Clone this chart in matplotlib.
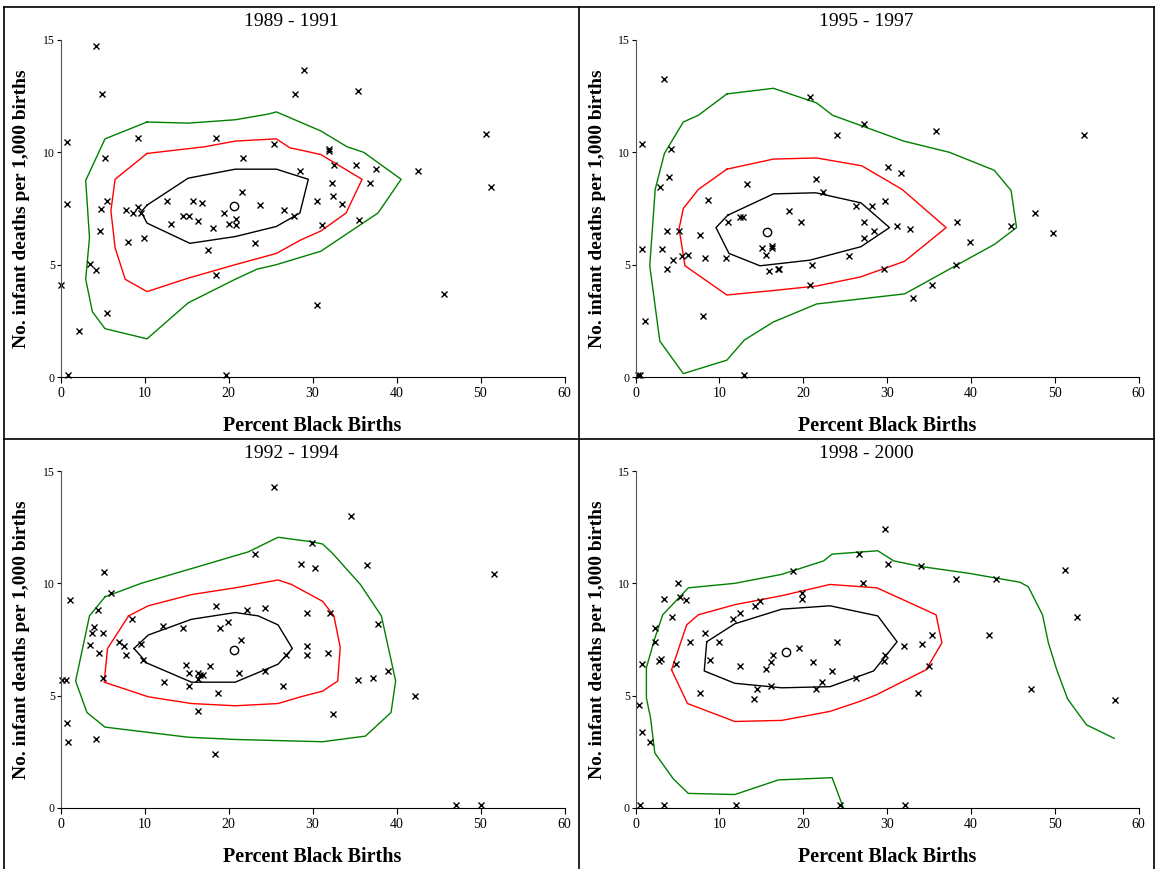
import matplotlib
matplotlib.use("Agg")
import matplotlib.pyplot as plt
from matplotlib.lines import Line2D

plt.rcParams['font.family'] = ['Liberation Serif', 'DejaVu Serif']

# ---- 1989 - 1991 ----
pts_8991 = [(4.2, 14.75), (4.9, 12.6), (0.8, 10.45), (9.2, 10.65), (18.5, 10.65), (25.4, 10.35),
            (5.3, 9.75), (21.7, 9.75), (28.5, 9.15), (0.8, 7.7), (5.5, 7.85), (4.8, 7.5), (7.8, 7.45),
            (8.6, 7.3), (9.2, 7.55), (9.6, 7.3), (12.7, 7.85), (15.8, 7.85), (16.8, 7.75), (21.6, 8.25),
            (19.5, 7.3), (23.8, 7.65), (26.6, 7.45), (27.8, 7.15), (13.2, 6.8), (14.6, 7.15), (15.3, 7.15),
            (16.4, 6.95), (18.2, 6.65), (20.1, 6.8), (20.9, 7.05), (20.9, 6.75), (4.7, 6.5), (8.0, 6.0),
            (9.9, 6.2), (17.6, 5.65), (23.1, 5.95), (3.5, 5.05), (4.2, 4.75), (0.1, 4.1), (18.5, 4.55),
            (5.5, 2.85), (2.2, 2.05), (0.9, 0.1), (19.7, 0.1), (29.0, 13.65), (27.9, 12.6), (35.4, 12.75),
            (50.7, 10.8), (32.0, 10.15), (32.0, 10.05), (32.6, 9.45), (35.2, 9.45), (37.5, 9.25),
            (42.6, 9.15), (32.3, 8.65), (36.85, 8.65), (51.3, 8.45), (30.5, 7.85), (32.4, 8.05),
            (33.5, 7.7), (31.1, 6.75), (35.55, 7.0), (45.7, 3.7), (30.5, 3.2)]
mean_8991 = (20.7, 7.6)
green_8991 = [(10.3, 11.35), (15.2, 11.3), (20.8, 11.45), (24.7, 11.7), (25.7, 11.8), (31.0, 10.95),
              (34.1, 10.25), (36.1, 10.0), (40.55, 8.8), (37.8, 7.3), (31.0, 5.6), (25.7, 5.0),
              (23.4, 4.8), (20.8, 4.35), (15.2, 3.3), (10.3, 1.7), (5.3, 2.15), (3.8, 2.9), (3.0, 4.35),
              (3.45, 6.2), (3.0, 8.75), (5.3, 10.6), (10.3, 11.35)]
red_8991 = [(10.3, 9.95), (17.2, 10.25), (20.8, 10.5), (25.7, 10.6), (27.3, 10.2), (28.6, 10.1),
            (31.0, 9.9), (35.9, 8.8), (34.0, 7.3), (31.0, 6.5), (28.6, 6.1), (25.7, 5.5), (20.8, 5.0),
            (15.2, 4.4), (10.3, 3.8), (7.7, 4.35), (6.5, 5.75), (6.0, 7.4), (6.5, 8.8), (10.3, 9.95)]
black_8991 = [(10.3, 7.65), (15.2, 8.85), (20.8, 9.25), (25.7, 9.25), (29.5, 8.8), (28.5, 7.3),
              (25.7, 6.7), (20.8, 6.25), (15.4, 5.95), (10.3, 6.85), (9.6, 7.35), (10.3, 7.65)]

# ---- 1995 - 1997 ----
pts_9597 = [(3.4, 13.25), (0.8, 10.35), (4.2, 10.15), (4.0, 8.9), (2.95, 8.45), (13.3, 8.6), (8.7, 7.9),
            (21.5, 8.8), (22.35, 8.25), (20.8, 12.45), (27.2, 11.25), (24.0, 10.75), (30.1, 9.35),
            (29.8, 7.85), (26.25, 7.6), (28.2, 7.6), (18.3, 7.4), (19.7, 6.9), (12.5, 7.1), (12.8, 7.1),
            (11.0, 6.9), (27.2, 6.9), (28.4, 6.5), (27.2, 6.2), (15.1, 5.75), (16.3, 5.75), (16.3, 5.85),
            (15.6, 5.45), (15.9, 4.7), (17.0, 4.8), (17.1, 4.8), (21.0, 5.0), (20.8, 4.1), (25.5, 5.4),
            (10.8, 5.3), (8.3, 5.3), (7.65, 6.3), (5.2, 6.5), (3.8, 6.5), (0.75, 5.7), (3.2, 5.7),
            (3.75, 4.8), (4.5, 5.2), (5.6, 5.4), (6.3, 5.45), (29.6, 4.8), (8.05, 2.7), (1.15, 2.5),
            (0.3, 0.07), (0.5, 0.07), (13.0, 0.07), (35.9, 10.95), (53.45, 10.75), (31.7, 9.1),
            (38.4, 6.9), (31.2, 6.7), (32.8, 6.6), (44.8, 6.7), (47.6, 7.3), (49.8, 6.4), (39.9, 6.0),
            (38.2, 5.0), (35.4, 4.1), (33.1, 3.5)]
mean_9597 = (15.7, 6.45)
green_9597 = [(10.9, 12.6), (16.45, 12.85), (21.6, 12.2), (23.5, 11.65), (32.0, 10.5), (37.45, 10.0),
              (42.8, 9.2), (44.8, 8.3), (45.45, 6.65), (42.8, 5.9), (37.45, 4.8), (32.1, 3.7),
              (21.6, 3.25), (16.45, 2.45), (13.0, 1.65), (10.9, 0.75), (5.7, 0.15), (2.9, 1.6),
              (1.7, 4.95), (2.35, 8.35), (3.45, 9.95), (5.7, 11.35), (7.5, 11.65), (10.9, 12.6)]
red_9597 = [(10.9, 9.25), (16.45, 9.7), (21.6, 9.75), (27.0, 9.4), (31.8, 8.35), (37.05, 6.65),
            (32.1, 5.15), (26.8, 4.45), (21.6, 4.05), (16.45, 3.85), (10.9, 3.65), (5.9, 4.95),
            (5.2, 6.6), (5.7, 7.5), (7.5, 8.35), (10.9, 9.25)]
black_9597 = [(11.0, 7.2), (16.45, 8.15), (21.5, 8.2), (26.9, 7.75), (30.3, 6.65), (26.9, 5.8),
              (20.8, 5.2), (14.85, 4.95), (11.15, 5.5), (9.6, 6.65), (11.0, 7.2)]

# ---- 1992 - 1994 ----
pts_9294 = [(25.45, 14.3), (5.2, 10.5), (1.1, 9.25), (6.0, 9.55), (4.5, 8.8), (4.0, 8.05), (3.7, 7.8),
            (5.0, 7.8), (3.5, 7.25), (4.6, 6.9), (8.55, 8.4), (7.0, 7.4), (7.6, 7.2), (7.85, 6.8),
            (9.6, 7.3), (9.8, 6.6), (12.15, 8.1), (14.55, 8.0), (18.5, 9.0), (19.0, 8.0), (19.9, 8.3),
            (22.2, 8.8), (24.35, 8.9), (21.45, 7.5), (26.8, 6.8), (14.95, 6.35), (15.35, 6.0),
            (17.85, 6.3), (16.4, 6.0), (16.65, 5.9), (16.95, 5.9), (16.4, 5.75), (21.25, 6.0),
            (24.3, 6.1), (12.3, 5.6), (15.35, 5.45), (18.7, 5.1), (26.45, 5.45), (16.4, 4.3), (5.0, 5.8),
            (0.15, 5.7), (0.7, 5.7), (0.8, 3.8), (0.95, 2.95), (4.2, 3.05), (18.4, 2.4), (23.2, 11.3),
            (28.6, 10.85), (29.3, 8.7), (29.4, 7.2), (29.4, 6.8), (34.6, 13.0), (29.95, 11.8),
            (30.35, 10.7), (36.45, 10.8), (51.6, 10.4), (32.1, 8.7), (37.8, 8.2), (31.9, 6.9),
            (39.0, 6.1), (35.4, 5.7), (37.15, 5.8), (42.2, 5.0), (32.45, 4.2), (47.1, 0.15), (50.0, 0.15)]
mean_9294 = (20.7, 7.05)
green_9294 = [(5.3, 9.4), (9.6, 10.0), (16.0, 10.7), (22.35, 11.4), (25.9, 12.05), (29.9, 11.85),
              (31.2, 11.75), (32.35, 11.35), (35.7, 9.95), (38.2, 8.55), (39.9, 5.65), (39.35, 4.25),
              (36.3, 3.2), (31.2, 2.95), (20.8, 3.05), (15.2, 3.15), (5.3, 3.6), (3.15, 4.25),
              (1.8, 5.65), (3.45, 8.55), (5.3, 9.4)]
red_9294 = [(8.1, 8.55), (10.45, 9.0), (15.6, 9.5), (20.8, 9.8), (25.9, 10.15), (27.5, 9.95), (31.2, 9.2),
            (32.55, 8.55), (33.3, 7.15), (33.0, 5.65), (31.2, 5.2), (28.6, 4.95), (25.9, 4.65),
            (20.8, 4.55), (15.6, 4.65), (10.45, 4.95), (5.2, 5.6), (5.6, 7.1), (8.1, 8.55)]
black_9294 = [(8.75, 7.1), (10.45, 7.7), (15.6, 8.4), (20.8, 8.7), (23.55, 8.55), (25.9, 8.15),
              (27.6, 7.1), (25.9, 6.4), (20.8, 5.6), (15.6, 5.6), (10.3, 6.45), (8.75, 7.1)]

# ---- 1998 - 2000 ----
pts_9800 = [(29.8, 12.4), (26.65, 11.3), (30.15, 10.85), (18.8, 10.55), (5.05, 10.0), (27.1, 10.0),
            (3.4, 9.3), (5.25, 9.4), (6.05, 9.25), (19.9, 9.55), (19.9, 9.3), (14.2, 9.0), (14.8, 9.2),
            (4.4, 8.5), (11.65, 8.4), (12.45, 8.7), (2.35, 8.0), (2.35, 7.4), (8.3, 7.8), (6.5, 7.4),
            (10.0, 7.4), (24.0, 7.4), (2.85, 6.55), (3.05, 6.65), (0.75, 6.4), (4.8, 6.4), (8.9, 6.6),
            (19.55, 7.1), (16.45, 6.8), (16.2, 6.5), (15.6, 6.2), (12.45, 6.3), (21.15, 6.5),
            (23.45, 6.1), (22.3, 5.6), (21.55, 5.3), (26.3, 5.8), (16.2, 5.45), (14.45, 5.3),
            (14.1, 4.85), (7.75, 5.1), (29.8, 6.8), (29.6, 6.55), (0.45, 4.6), (0.75, 3.4), (1.75, 2.95),
            (0.5, 0.15), (3.4, 0.15), (11.95, 0.15), (24.35, 0.15), (34.0, 10.75), (38.2, 10.2),
            (42.95, 10.2), (51.2, 10.6), (52.7, 8.5), (35.35, 7.7), (42.2, 7.7), (34.15, 7.3),
            (32.0, 7.2), (35.05, 6.3), (33.7, 5.1), (47.2, 5.3), (57.15, 4.8), (32.2, 0.15)]
mean_9800 = (17.9, 6.95)
green_9800 = [(24.8, 0.0), (23.45, 1.35), (17.05, 1.25), (11.85, 0.6), (6.3, 0.65), (4.5, 1.3),
              (2.3, 2.45), (1.8, 4.0), (1.3, 4.9), (1.3, 6.25), (2.3, 7.55), (3.25, 8.6), (6.3, 9.8),
              (11.85, 10.0), (17.45, 10.4), (22.45, 11.0), (23.45, 11.3), (28.9, 11.45), (30.8, 11.0),
              (34.0, 10.75), (39.7, 10.45), (45.85, 10.05), (46.85, 9.85), (48.55, 8.6), (49.25, 7.35),
              (50.25, 6.15), (51.55, 4.85), (53.8, 3.7), (57.1, 3.1)]
red_9800 = [(4.3, 6.15), (6.1, 8.15), (7.5, 8.6), (11.85, 9.05), (17.45, 9.45), (23.2, 9.95), (28.8, 9.8),
            (35.85, 8.6), (36.55, 7.35), (34.65, 6.15), (28.8, 5.05), (26.8, 4.75), (23.2, 4.3),
            (17.45, 3.9), (11.85, 3.85), (6.2, 4.65), (4.3, 6.15)]
black_9800 = [(8.5, 7.4), (11.85, 8.2), (17.45, 8.85), (23.2, 9.0), (28.9, 8.55), (31.2, 7.4),
              (28.4, 6.1), (23.2, 5.4), (17.45, 5.35), (11.85, 5.55), (8.2, 6.1), (8.5, 7.4)]

titles = ["1989 - 1991", "1995 - 1997", "1992 - 1994", "1998 - 2000"]
x_ticks = [0, 10, 20, 30, 40, 50, 60]
y_ticks = [0, 5, 10, 15]

W, H = 1156, 869
fig = plt.figure(figsize=(W / 100, H / 100), dpi=100)

# pixel boxes of the four plot areas: left, top, right, bottom
boxes = [(60.5, 40, 564.5, 377), (635.5, 40, 1138.5, 377),
         (60.5, 471, 564.5, 808), (635.5, 471, 1138.5, 808)]
cells = [(4, 579), (579, 1154), (4, 579), (579, 1154)]
panels = [(pts_8991, mean_8991, green_8991, red_8991, black_8991),
          (pts_9597, mean_9597, green_9597, red_9597, black_9597),
          (pts_9294, mean_9294, green_9294, red_9294, black_9294),
          (pts_9800, mean_9800, green_9800, red_9800, black_9800)]

for i, (pts, mean, green, red, black) in enumerate(panels):
    l, t, r, b = boxes[i]
    ax = fig.add_axes([l / W, 1 - b / H, (r - l) / W, (b - t) / H])
    for line, col in [(green, "#008000"), (red, "#ff0000"), (black, "black")]:
        ax.plot([p[0] for p in line], [p[1] for p in line], color=col, lw=1.0)
    ax.plot([p[0] for p in pts], [p[1] for p in pts], "x", color="black", ms=4.5, mew=1.0,
            clip_on=False)
    ax.plot(mean[0], mean[1], "o", mfc="none", mec="black", ms=6, mew=1.0)
    ax.set_xlim(0, 60)
    ax.set_ylim(0, 15)
    ax.set_xticks(x_ticks)
    ax.set_yticks(y_ticks)
    ax.spines["top"].set_visible(False)
    ax.spines["right"].set_visible(False)
    ax.spines["left"].set_color("#555555")
    ax.tick_params(axis="x", direction="out", length=4, width=0.8, pad=3, labelsize=10)
    ax.tick_params(axis="y", direction="out", length=3, width=0.8, pad=1, labelsize=8.5)

    cx0, cx1 = cells[i]
    fig.text((cx0 + cx1) / 2 / W, 1 - (t - 18) / H, titles[i], ha="center", va="center", fontsize=14)
    fig.text((l + r) / 2 / W, 1 - (b + 49) / H, "Percent Black Births", ha="center", va="center",
             fontsize=14.5, fontweight="bold")
    fig.text((cx0 + 18) / W, 1 - (t + b) / 2 / H, "No. infant deaths per 1,000 births", rotation=90,
             ha="center", va="center", fontsize=14, fontweight="bold")

# frame lines between the panels
for x0, y0, x1, y1 in [(4, 7, 1154, 7), (4, 7, 4, 869), (1154, 7, 1154, 869),
                       (579, 7, 579, 869), (4, 439, 1154, 439)]:
    fig.add_artist(Line2D([x0 / W, x1 / W], [1 - y0 / H, 1 - y1 / H], color="black", lw=1.2))

fig.savefig("out.png", dpi=100)
